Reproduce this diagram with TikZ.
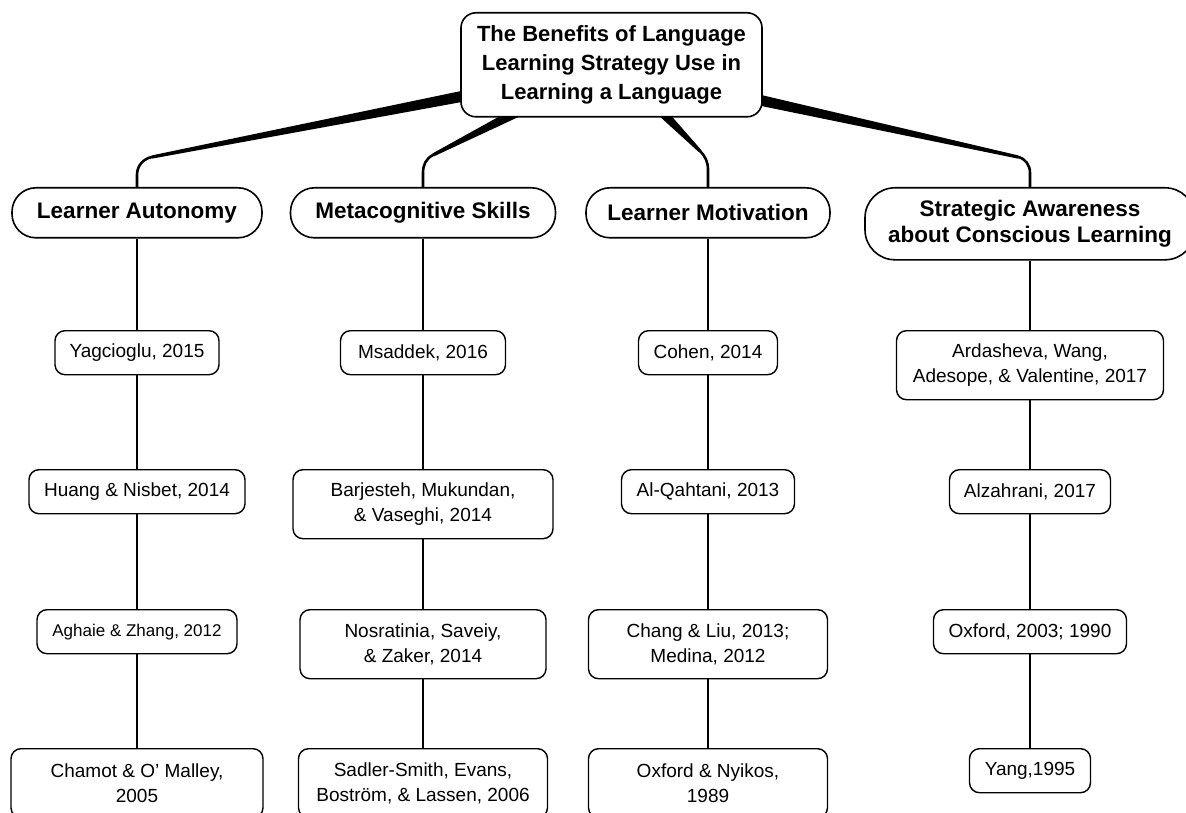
\documentclass[tikz,border=0pt]{standalone}
\usepackage{fontspec}
\setmainfont{Liberation Sans}
\usetikzlibrary{calc}

\begin{document}
\begin{tikzpicture}[x=1pt,y=-1pt,
  topic/.style={draw,line width=1.6pt,fill=white,rounded corners=15pt,align=center,
    font=\bfseries\fontsize{22}{29}\selectfont,inner sep=0pt,anchor=north},
  head/.style={draw,line width=1.6pt,fill=white,rounded corners=24pt,align=center,
    font=\bfseries\fontsize{22.5}{26}\selectfont,minimum height=50pt,inner sep=0pt,anchor=north},
  ref/.style={draw,line width=1.4pt,fill=white,rounded corners=10pt,align=center,
    font=\fontsize{19}{25}\selectfont,minimum height=44pt,inner sep=0pt,anchor=north},
  reftwo/.style={ref,minimum height=69pt},
  conn/.style={line width=1.6pt},
  elbow/.style={line width=2.6pt}]

\clip (0,0) rectangle (1186,813);

% branch headings
\node[head,minimum width=250pt] (catA) at (137,187) {Learner Autonomy};
\node[head,minimum width=265pt] (catM) at (423,187) {Metacognitive Skills};
\node[head,minimum width=244pt] (catL) at (708,187) {Learner Motivation};
\node[head,minimum width=330pt,minimum height=72pt,rounded corners=30pt] (catS) at (1030,187)
  {Strategic Awareness\\about Conscious Learning};

% references
\node[ref,minimum width=164pt] (A1) at (137,330) {Yagcioglu, 2015};
\node[ref,minimum width=216pt] (A2) at (137,469) {Huang \& Nisbet, 2014};
\node[ref,minimum width=200pt,font=\fontsize{17}{22}\selectfont] (A3) at (137,609) {Aghaie \& Zhang, 2012};
\node[reftwo,minimum width=252pt] (A4) at (137,748) {Chamot \& O’ Malley,\\2005};

\node[ref,minimum width=165pt] (M1) at (423,330) {Msaddek, 2016};
\node[reftwo,minimum width=260pt] (M2) at (423,469) {Barjesteh, Mukundan,\\\& Vaseghi, 2014};
\node[reftwo,minimum width=246pt] (M3) at (423,609) {Nosratinia, Saveiy,\\\& Zaker, 2014};
\node[reftwo,minimum width=249pt] (M4) at (423,748) {Sadler-Smith, Evans,\\Boström, \& Lassen, 2006};

\node[ref,minimum width=139pt] (L1) at (708,330) {Cohen, 2014};
\node[ref,minimum width=173pt] (L2) at (708,469) {Al-Qahtani, 2013};
\node[reftwo,minimum width=239pt] (L3) at (708,609) {Chang \& Liu, 2013;\\Medina, 2012};
\node[reftwo,minimum width=239pt] (L4) at (708,748) {Oxford \& Nyikos,\\1989};

\node[reftwo,minimum width=267pt] (S1) at (1030,330) {Ardasheva, Wang,\\Adesope, \& Valentine, 2017};
\node[ref,minimum width=161pt] (S2) at (1030,469) {Alzahrani, 2017};
\node[ref,minimum width=193pt] (S3) at (1030,609) {Oxford, 2003; 1990};
\node[ref,minimum width=121pt] (S4) at (1030,748) {Yang,1995};

\foreach \c in {A,M,L,S}
{
  \draw[conn] (cat\c.south) -- (\c1.north);
  \draw[conn] (\c1.south) -- (\c2.north);
  \draw[conn] (\c2.south) -- (\c3.north);
  \draw[conn] (\c3.south) -- (\c4.north);
}

% tapered branches out of the root
\coordinate (RA1) at (505,88);
\coordinate (RA2) at (545,98);
\coordinate (RA3) at (645,95);
\coordinate (RA4) at (718,91);

\coordinate (RB1) at (152,157);
\coordinate (RB2) at (433,155);
\coordinate (RB3) at (700,151);
\coordinate (RB4) at (1018,157);

\coordinate (RC1) at (137,175);
\coordinate (RC2) at (423,173);
\coordinate (RC3) at (708,170);
\coordinate (RC4) at (1030,173);

\foreach \i/\a/\c in {1/191/A,2/207/M,3/-46/L,4/-12/S}
{
  \fill ($(RA\i)!6pt!90:(RB\i)$) -- ($(RB\i)!1.6pt!-90:(RA\i)$)
    -- ($(RB\i)!1.6pt!90:(RA\i)$) -- ($(RA\i)!6pt!-90:(RB\i)$) -- cycle;
  \draw[elbow] (RB\i) to[out=\a,in=90] (RC\i) -- (cat\c.north);
}

\node[topic,minimum width=301pt,minimum height=104pt] (root) at (611.5,12)
  {The Benefits of Language\\Learning Strategy Use in\\Learning a Language};

\end{tikzpicture}
\end{document}
